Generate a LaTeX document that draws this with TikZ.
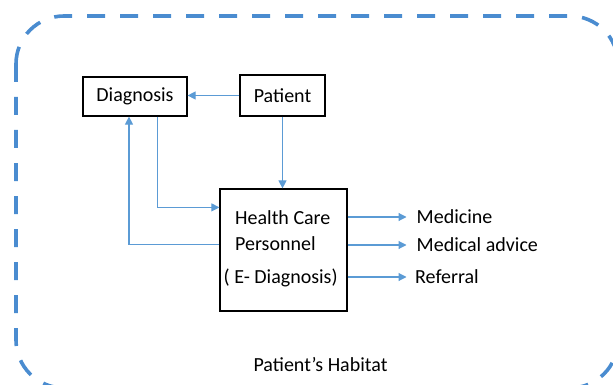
\documentclass[tikz,border=0pt]{standalone}
\usepackage{fontspec}
\setmainfont{Carlito}
\usetikzlibrary{arrows.meta,calc}
\definecolor{bordblue}{HTML}{4A8CD0}
\definecolor{arrblue}{HTML}{5B9BD5}
\tikzset{
  box/.style={draw=black,line width=1.2pt,rectangle,inner sep=0pt,font=\fontsize{20}{24}\selectfont},
  lbl/.style={inner sep=0pt,font=\fontsize{20}{24}\selectfont},
  arr/.style={draw=arrblue,line width=1.1pt,-{Triangle[length=8pt,width=8pt]}},
  habitat/.style={draw=bordblue,line width=3.6pt,dash pattern=on 18pt off 15pt,rounded corners=48pt}
}
\begin{document}
\begin{tikzpicture}[x=1pt,y=-1pt]
\useasboundingbox (0,0) rectangle (613,385);
\begin{scope}
\clip (0,0) rectangle (613,385);
\draw[habitat] (16,16) rectangle (618,388);
\end{scope}
\node[box,minimum width=104pt,minimum height=39pt] (diag) at (135,96.5) {Diagnosis};
\node[box,minimum width=85pt,minimum height=41pt] (pat) at (282.5,95.5) {Patient};
\node[box,minimum width=127pt,minimum height=122pt] (hcp) at (283.5,250) {};
\node[lbl,anchor=base west] (hcpa) at (235,224) {Health Care};
\node[lbl,anchor=base west] (hcpb) at (235,250) {Personnel};
\node[lbl,anchor=base west] (hcpc) at (223.5,283) {( E- Diagnosis)};
\node[lbl,anchor=west,inner xsep=10pt] (med) at (406.5,217) {Medicine};
\node[lbl,anchor=west,inner xsep=10pt] (adv) at (406.5,245) {Medical advice};
\node[lbl,anchor=west,inner xsep=8.5pt] (ref) at (406.5,277) {Referral};
\node[lbl,anchor=base] (hab) at (320.5,371) {Patient’s Habitat};
\coordinate (dout) at ($(diag.south)+(22.5,0)$);
\coordinate (din) at ($(diag.south)+(-6,0)$);
\coordinate (hin) at ($(hcp.north west)+(0,19)$);
\coordinate (hout) at ($(hcp.north west)+(0,56)$);
\draw[arr] (pat.west) -- (pat.west -| diag.east);
\draw[arr] (pat.south) -- (pat.south |- hcp.north);
\draw[arr] (dout) |- (hin);
\draw[arr] (hout) -| (din);
\draw[arr] (hcp.east |- med.west) -- (med.west);
\draw[arr] (hcp.east |- adv.west) -- (adv.west);
\draw[arr] (hcp.east |- ref.west) -- (ref.west);
\end{tikzpicture}
\end{document}
